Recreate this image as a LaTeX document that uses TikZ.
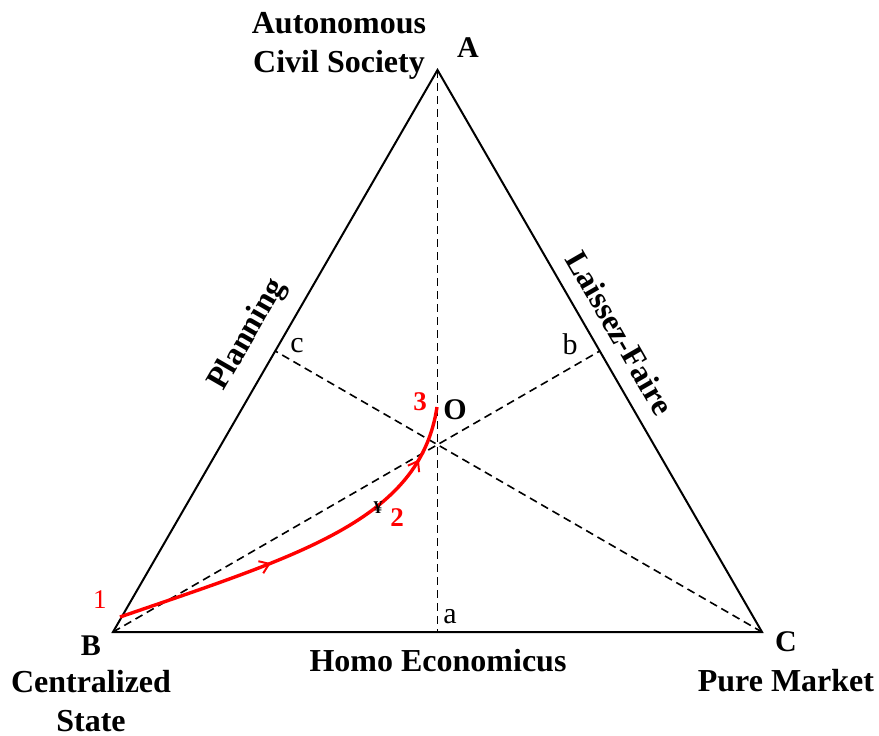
\documentclass[tikz,border=0pt]{standalone}
\usepackage{fontspec}
\setmainfont{Liberation Serif}
\usetikzlibrary{decorations.markings,arrows.meta,calc}
\begin{document}
\begin{tikzpicture}[x=0.5pt,y=-0.5pt,
  side/.style={line width=1pt,line join=miter},
  median/.style={line width=0.8pt,dash pattern=on 4pt off 2.5pt},
  big/.style={font=\fontsize{16}{19.5}\selectfont\bfseries,align=center,inner sep=0},
  vert/.style={font=\fontsize{15}{17}\selectfont\bfseries,inner sep=0},
  small/.style={font=\fontsize{15}{17}\selectfont,inner sep=0},
  rednum/.style={font=\fontsize{13.5}{15}\selectfont,text=red,inner sep=0},
  path/.style={red,line width=1.7pt,
    postaction={decorate,decoration={markings,
      mark=at position 0.40 with {\arrow{Straight Barb[length=4.5pt,width=6.5pt,line width=1pt]}},
      mark=at position 0.86 with {\arrow{Straight Barb[length=4.5pt,width=6.5pt,line width=1pt]}}}}}]
\useasboundingbox (0,0) rectangle (879,735);
\coordinate (A) at (437.5,70);
\coordinate (B) at (113,632);
\coordinate (C) at (762,632);
\coordinate (P1) at (120,617);
\coordinate (P3) at (437,407);
\coordinate (a) at ($(B)!0.5!(C)$);
\coordinate (b) at ($(A)!0.5!(C)$);
\coordinate (c) at ($(A)!0.5!(B)$);
\draw[side] (A) -- (B) -- (C) -- cycle;
\draw[median] (A) -- (a);
\draw[median] (B) -- (b);
\draw[median] (C) -- (c);
\draw[path] (P1) .. controls (300,555) and (420,520) .. (P3);
\node[big] (lA) at (339,46) {Autonomous\\Civil Society};
\node[big] (lB) at (91,701) {Centralized\\State};
\node[big] (lC) at (786,681) {Pure Market};
\node[big] (lBC) at (438,661) {Homo Economicus};
\node[big,rotate=60] (lAB) at (248,335) {Planning};
\node[big,rotate=-60] (lAC) at (620,333) {Laissez-Faire};
\node[vert] (nA) at (468,48) {A};
\node[vert] (nB) at (91,646) {B};
\node[vert] (nC) at (786,642) {C};
\node[vert] (nO) at (455,410) {O};
\node[small] (na) at (450,617) {a};
\node[small] (nb) at (570,344) {b};
\node[small] (nc) at (297,346) {c};
\node[rednum] (n1) at (100,600) {1};
\node[rednum,font=\fontsize{13.5}{15}\selectfont\bfseries] (n2) at (397,518) {2};
\node[rednum,font=\fontsize{13.5}{15}\selectfont\bfseries] (n3) at (420,402) {3};
\node[font=\fontsize{9}{10}\selectfont\bfseries,inner sep=0] (yen) at (378,508) {¥};
\end{tikzpicture}
\end{document}
